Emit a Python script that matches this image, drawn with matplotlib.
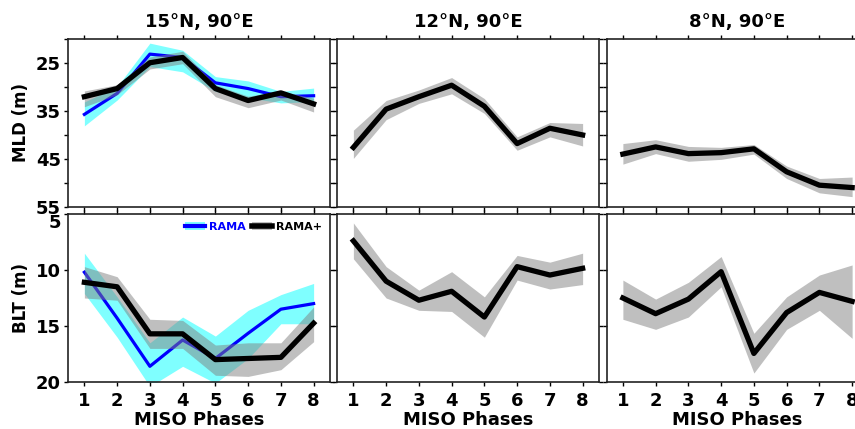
import matplotlib
matplotlib.use('Agg')
import matplotlib.pyplot as plt
from matplotlib.patches import Patch
from matplotlib.lines import Line2D

phases = [1, 2, 3, 4, 5, 6, 7, 8]
titles = ['15°N, 90°E', '12°N, 90°E', '8°N, 90°E']
mld_ticks = [20, 25, 30, 35, 40, 45, 50, 55]
mld_ticklabels = ['', '25', '', '35', '', '45', '', '55']
blt_ticks = [5, 10, 15, 20]
blt_ticklabels = ['5', '10', '15', '20']

# MLD (m) -- 15N, 90E
mld15_rama = [35.7, 31.3, 23.1, 23.8, 29.1, 30.3, 32.0, 31.8]
mld15_rama_lo = [33.1, 29.9, 20.8, 22.3, 27.8, 28.7, 30.9, 30.2]
mld15_rama_hi = [38.1, 32.7, 25.7, 26.8, 30.9, 32.2, 33.3, 33.0]
mld15_plus = [32.0, 30.3, 24.9, 23.8, 30.3, 32.8, 31.2, 33.5]
mld15_plus_lo = [30.8, 29.5, 23.7, 22.5, 29.5, 31.9, 30.8, 32.3]
mld15_plus_hi = [34.1, 31.6, 26.2, 25.1, 32.0, 34.3, 32.7, 35.2]
# MLD -- 12N, 90E
mld12_plus = [42.6, 34.6, 32.0, 29.6, 34.0, 41.8, 38.6, 40.0]
mld12_plus_lo = [39.0, 32.8, 30.6, 28.0, 32.4, 40.4, 37.4, 37.6]
mld12_plus_hi = [44.9, 36.8, 33.4, 31.4, 35.5, 43.2, 40.4, 42.3]
# MLD -- 8N, 90E
mld8_plus = [44.0, 42.5, 43.9, 43.7, 42.9, 47.7, 50.5, 51.0]
mld8_plus_lo = [41.8, 41.0, 42.4, 42.6, 42.0, 46.5, 49.1, 48.8]
mld8_plus_hi = [46.1, 43.9, 45.5, 45.1, 44.0, 49.1, 52.1, 52.9]

# BLT (m) -- 15N, 90E
blt15_rama = [10.2, 14.3, 18.6, 16.25, 17.9, 15.65, 13.5, 13.0]
blt15_rama_lo = [8.5, 12.4, 16.5, 14.2, 15.9, 13.6, 12.2, 11.2]
blt15_rama_hi = [12.1, 16.0, 20.4, 18.6, 20.1, 17.9, 14.8, 14.8]
blt15_plus = [11.1, 11.5, 15.7, 15.7, 18.0, 17.9, 17.8, 14.75]
blt15_plus_lo = [9.7, 10.6, 14.4, 14.5, 16.7, 16.5, 16.5, 13.3]
blt15_plus_hi = [12.5, 12.7, 17.0, 17.0, 19.4, 19.5, 18.9, 16.4]
# BLT -- 12N, 90E
blt12_plus = [7.4, 11.0, 12.7, 11.9, 14.2, 9.7, 10.45, 9.85]
blt12_plus_lo = [5.8, 9.7, 11.8, 10.15, 12.4, 8.7, 9.3, 8.5]
blt12_plus_hi = [9.0, 12.5, 13.6, 13.7, 16.0, 10.9, 11.7, 11.3]
# BLT -- 8N, 90E
blt8_plus = [12.5, 13.9, 12.6, 10.15, 17.45, 13.8, 12.0, 12.8]
blt8_plus_lo = [10.9, 12.6, 11.1, 8.8, 15.65, 12.4, 10.45, 9.55]
blt8_plus_hi = [14.4, 15.3, 14.2, 11.5, 19.2, 15.3, 13.6, 16.1]

plt.rcParams['font.family'] = ['DejaVu Sans']
plt.rcParams['font.weight'] = 'bold'
plt.rcParams['axes.labelweight'] = 'bold'
plt.rcParams['axes.titleweight'] = 'bold'

W, H = 855, 429
fig = plt.figure(figsize=(W / 100, H / 100), dpi=100)

col_left = [68, 337, 606.5]
col_w = 262
row_top = [39.3, 214]
row_bot = [206.7, 382]

CYAN = '#00FFFF'
GRAY = '#808080'

def make_ax(r, c):
    l = col_left[c] / W
    b = 1 - row_bot[r] / H
    h = (row_bot[r] - row_top[r]) / H
    return fig.add_axes([l, b, col_w / W, h])

mld_data = [
    (mld15_plus, mld15_plus_lo, mld15_plus_hi, (mld15_rama, mld15_rama_lo, mld15_rama_hi)),
    (mld12_plus, mld12_plus_lo, mld12_plus_hi, None),
    (mld8_plus, mld8_plus_lo, mld8_plus_hi, None),
]
blt_data = [
    (blt15_plus, blt15_plus_lo, blt15_plus_hi, (blt15_rama, blt15_rama_lo, blt15_rama_hi)),
    (blt12_plus, blt12_plus_lo, blt12_plus_hi, None),
    (blt8_plus, blt8_plus_lo, blt8_plus_hi, None),
]

for r, data in enumerate([mld_data, blt_data]):
    for c in range(3):
        ax = make_ax(r, c)
        plus, lo, hi, rama = data[c]
        if rama is not None:
            ax.fill_between(phases, rama[1], rama[2], color=CYAN, alpha=0.5, lw=0, zorder=1)
            ax.plot(phases, rama[0], color='#0000FF', lw=2.3, zorder=2)
        ax.fill_between(phases, lo, hi, color=GRAY, alpha=0.5, lw=0, zorder=3)
        ax.plot(phases, plus, color='black', lw=3.8, zorder=4)
        ax.set_xlim(0.5, 8.5)
        ax.set_xticks(phases)
        if r == 0:
            ax.set_ylim(55, 20)
            ax.set_yticks(mld_ticks)
            ax.set_yticklabels(mld_ticklabels if c == 0 else [''] * len(mld_ticks))
            ax.set_xticklabels([''] * 8)
            ax.set_title(titles[c], fontsize=13, fontweight='bold', pad=9)
        else:
            ax.set_ylim(20, 5)
            ax.set_yticks(blt_ticks)
            ax.set_yticklabels(blt_ticklabels if c == 0 else [''] * len(blt_ticks))
            ax.set_xticklabels([str(p) for p in phases])
            ax.set_xlabel('MISO Phases', fontsize=13, fontweight='bold', labelpad=1)
        ax.tick_params(direction='out', length=3, width=1, top=True, right=True,
                       labelsize=13, pad=2)
        ax.tick_params(axis='x', pad=4)
        for lab in ax.get_xticklabels() + ax.get_yticklabels():
            lab.set_fontweight('bold')
        for sp in ax.spines.values():
            sp.set_linewidth(1.2)
            sp.set_color('#222222')
        if c == 0:
            if r == 0:
                ax.set_ylabel('MLD (m)', fontsize=12, fontweight='bold')
                ax.yaxis.set_label_coords(-0.145, 0.5)
            else:
                ax.set_ylabel('BLT (m)', fontsize=12, fontweight='bold')
                ax.yaxis.set_label_coords(-0.145, 0.5)
                ax.yaxis.get_major_ticks()[0].label1.set_verticalalignment('top')
                handles = [
                    (Patch(facecolor=CYAN, alpha=0.5, lw=0), Line2D([], [], color='#0000FF', lw=3)),
                    (Patch(facecolor=GRAY, alpha=0.5, lw=0), Line2D([], [], color='black', lw=4)),
                ]
                leg = ax.legend(handles, ['RAMA', 'RAMA+'], loc='upper right', ncol=2,
                                frameon=False, prop={'weight': 'bold', 'size': 8},
                                handlelength=1.8, columnspacing=0.5, handletextpad=0.4,
                                borderaxespad=0.3)
                leg.get_texts()[0].set_color('#0000FF')

fig.savefig('out.png', dpi=100)
